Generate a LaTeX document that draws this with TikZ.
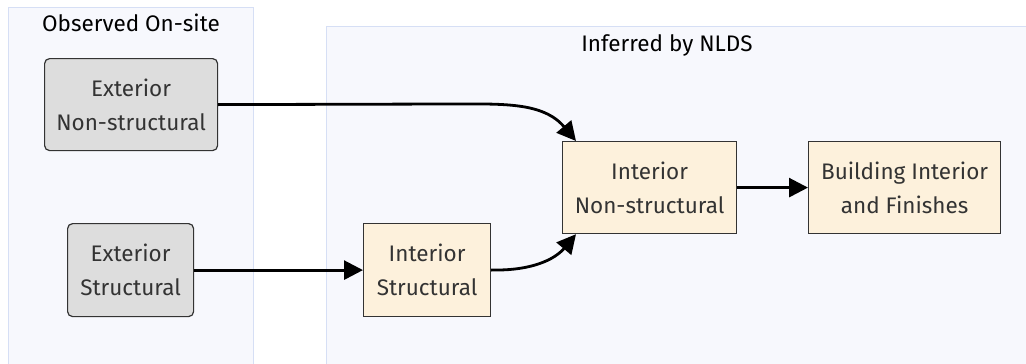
\documentclass[tikz,border=0pt]{standalone}
\usepackage{fontspec}
\setmainfont{Fira Sans}
\usetikzlibrary{arrows.meta}
\definecolor{clusterfill}{HTML}{F7F8FD}
\definecolor{clusterline}{HTML}{D6DFF5}
\definecolor{obsfill}{HTML}{DDDDDD}
\definecolor{inffill}{HTML}{FDF1DC}
\definecolor{txt}{HTML}{333333}
\tikzset{
  cluster/.style={fill=clusterfill, draw=clusterline, line width=1pt},
  ctitle/.style={font=\fontsize{22.5}{26}\selectfont, text=black},
  nodebase/.style={draw=txt, line width=1.2pt, text=txt, align=center,
    font=\fontsize{22.5}{34}\selectfont, inner sep=0pt, anchor=north west},
  observed/.style={nodebase, fill=obsfill, rounded corners=5pt},
  inferred/.style={nodebase, fill=inffill},
  link/.style={line width=2.8pt, -{Triangle[length=19pt,width=19pt]}}
}
\begin{document}
\begin{tikzpicture}[x=1pt, y=-1pt]
\useasboundingbox (0,0) rectangle (1026,364);
\clip (0,0) rectangle (1026,364);
\fill[white] (0,0) rectangle (1026,364);
% subgraph frames
\draw[cluster] (8,7) rectangle (253,380);
\draw[cluster] (326,26) rectangle (1040,380);
\node[ctitle] (tobs) at (131,23) {Observed On-site};
\node[ctitle] (tinf) at (667,45) {Inferred by NLDS};
% nodes
\node[observed, minimum width=173pt, minimum height=92pt] (ens) at (44,58) {Exterior\\Non-structural};
\node[observed, minimum width=126pt, minimum height=93pt] (es) at (67,223) {Exterior\\Structural};
\node[inferred, minimum width=127pt, minimum height=93pt] (is) at (363,223) {Interior\\Structural};
\node[inferred, minimum width=174pt, minimum height=92pt] (ins) at (562,141) {Interior\\Non-structural};
\node[inferred, minimum width=192pt, minimum height=92pt] (bif) at (808,141) {Building Interior\\and Finishes};
% connectors
\coordinate (k1) at (450,104);
\draw[link] (ens.east) -- (k1) to[out=0, in=130] ([xshift=14pt]ins.north west);
\draw[link] (es.east) -- (is.west);
\coordinate (k3) at (497,270);
\draw[link] (is.east) -- (k3) to[out=0, in=-130] ([xshift=14pt]ins.south west);
\draw[link] (ins.east) -- (bif.west);
\end{tikzpicture}
\end{document}
